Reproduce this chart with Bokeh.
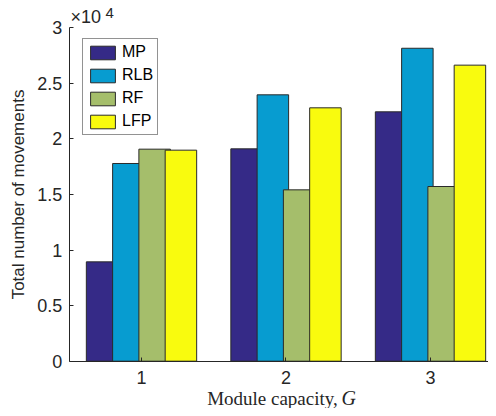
import math
from bokeh.plotting import figure
from bokeh.models import ColumnDataSource, FixedTicker, Label, Legend, LegendItem, Range1d, LinearAxis
from bokeh.transform import dodge
from bokeh.embed import file_html
from bokeh.resources import INLINE

# ---- data ----
groups = [1, 2, 3]
series = ["MP", "RLB", "RF", "LFP"]
mp = [8940, 19110, 22440]
rlb = [17790, 23970, 28160]
rf = [19080, 15420, 15720]
lfp = [18990, 22800, 26640]
colors = ["#352a87", "#079cd0", "#a5be6b", "#f9fb0e"]
y_ticks = [0, 5000, 10000, 15000, 20000, 25000, 30000]
y_tick_labels = ["0", "0.5", "1", "1.5", "2", "2.5", "3"]

source = ColumnDataSource(data=dict(x=groups, MP=mp, RLB=rlb, RF=rf, LFP=lfp))

W, H = 488, 408
p = figure(width=W, height=H, output_backend="svg", toolbar_location=None,
           x_range=Range1d(0.02422, 3.4014), y_range=Range1d(-4256, 32457),
           x_axis_location=None, y_axis_location=None)
p.min_border = 0
p.min_border_left = 0
p.min_border_right = 0
p.min_border_top = 0
p.min_border_bottom = 0
p.outline_line_color = None
p.xgrid.visible = False
p.ygrid.visible = False

spacing = 0.7273 / 4
bar_w = 0.218
offsets = [-1.5 * spacing, -0.5 * spacing, 0.5 * spacing, 1.5 * spacing]
renderers = []
for name, col, off in zip(series, colors, offsets):
    r = p.vbar(x=dodge("x", off), top=name, width=bar_w, source=source,
               fill_color=col, line_color="#2a2a2a", line_width=1)
    renderers.append(r)

axis_col = "#262626"
xaxis = LinearAxis(fixed_location=0, bounds=(0.5, 3.4014))
yaxis = LinearAxis(fixed_location=0.5, bounds=(0, 30000))
for ax in (xaxis, yaxis):
    ax.axis_line_color = axis_col
    ax.major_tick_line_color = axis_col
    ax.major_tick_in = 4
    ax.major_tick_out = 0
    ax.minor_tick_line_color = None
    ax.major_label_text_font = "Liberation Sans"
    ax.major_label_text_font_size = "18px"
    ax.major_label_text_color = axis_col

xaxis.ticker = FixedTicker(ticks=groups)
xaxis.major_label_standoff = 10

yaxis.ticker = FixedTicker(ticks=y_ticks)
yaxis.major_label_overrides = {t: s for t, s in zip(y_ticks, y_tick_labels)}
yaxis.major_label_standoff = 7
yaxis.axis_label = "Total number of movements"
yaxis.axis_label_text_font = "Liberation Sans"
yaxis.axis_label_text_font_style = "normal"
yaxis.axis_label_text_font_size = "17px"
yaxis.axis_label_text_color = axis_col
yaxis.axis_label_standoff = 6
p.add_layout(xaxis, "below")
p.add_layout(yaxis, "left")

legend = Legend(items=[LegendItem(label=n, renderers=[r]) for n, r in zip(series, renderers)],
                location=(82, 273))
legend.glyph_width = 31
legend.glyph_height = 17
legend.label_height = 17
legend.label_width = 20
legend.spacing = 5
legend.padding = 4
legend.margin = 0
legend.label_standoff = 4
legend.border_line_color = "#262626"
legend.border_line_width = 1
legend.background_fill_color = "white"
legend.background_fill_alpha = 1
legend.label_text_font = "Liberation Sans"
legend.label_text_font_size = "16px"
legend.label_text_color = "#000000"
p.add_layout(legend)

# x-axis label (serif, italic G)
p.add_layout(Label(x=1.4543, y=-3356, text="Module capacity,", text_align="left",
                   text_baseline="middle", text_font="Liberation Serif",
                   text_font_size="19px", text_color=axis_col))
p.add_layout(Label(x=2.3841, y=-3356, text="G", text_align="left",
                   text_baseline="middle", text_font="Liberation Serif",
                   text_font_style="italic", text_font_size="20px", text_color=axis_col))

# exponent label
p.add_layout(Label(x=0.5087, y=31017, text="×10", text_align="left",
                   text_baseline="middle", text_font="Liberation Sans",
                   text_font_size="18px", text_color=axis_col))
p.add_layout(Label(x=0.7509, y=31377, text="4", text_align="left",
                   text_baseline="middle", text_font="Liberation Sans",
                   text_font_size="15px", text_color=axis_col))

open("out.html", "w").write(file_html(p, INLINE))
